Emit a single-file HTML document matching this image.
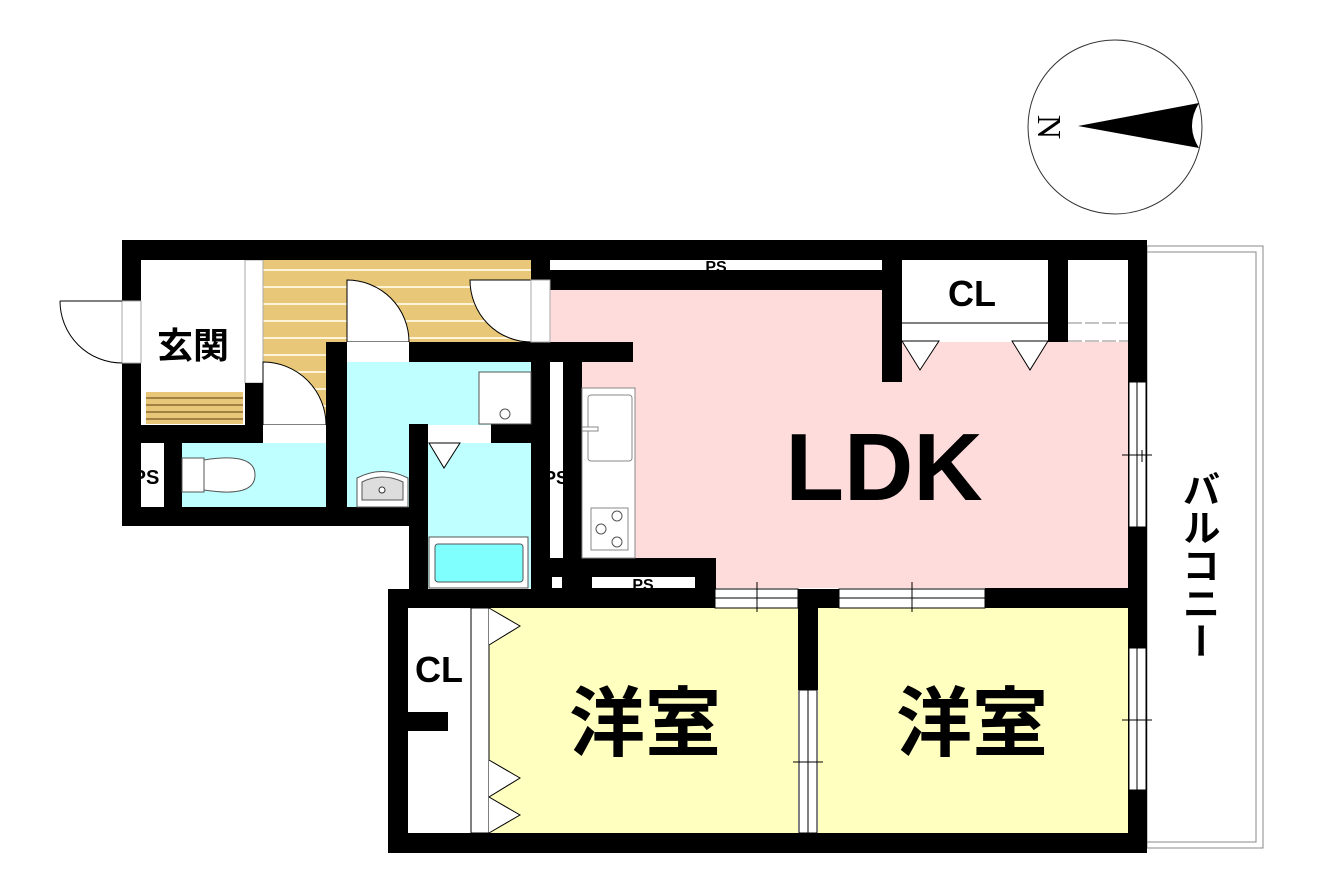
<!DOCTYPE html>
<html><head><meta charset="utf-8"><style>
html,body{margin:0;padding:0;background:#fff;}
svg{display:block}
text{font-family:"Liberation Sans","Noto Sans CJK JP",sans-serif;font-weight:bold;fill:#000}
</style></head><body>
<svg width="1319" height="885" viewBox="0 0 1319 885" xmlns="http://www.w3.org/2000/svg">
<!-- compass -->
<circle cx="1115" cy="127" r="87" fill="#fff" stroke="#333" stroke-width="1"/>
<path d="M1078,126 L1199,103 Q1185,126 1199,148 Z" fill="#000"/>
<text x="1050" y="127" font-size="34" text-anchor="middle" transform="rotate(90 1050 127)" dy="12" style="font-family:'Liberation Serif',serif;font-weight:normal">N</text>

<!-- balcony -->
<rect x="1147" y="246" width="116" height="602" fill="#fff" stroke="#888" stroke-width="1"/>
<rect x="1147" y="252" width="109" height="590" fill="none" stroke="#888" stroke-width="1"/>

<!-- room fills -->
<rect x="550" y="290" width="581" height="298" fill="#ffdcdc"/>
<rect x="582" y="362" width="140" height="226" fill="#ffdcdc"/>
<rect x="263" y="260" width="268" height="82" fill="#e8c878"/>
<g stroke="#fff3d8" stroke-width="2">
<line x1="263" y1="270" x2="531" y2="270"/><line x1="263" y1="287" x2="531" y2="287"/><line x1="263" y1="304" x2="531" y2="304"/><line x1="263" y1="321" x2="531" y2="321"/><line x1="263" y1="338" x2="531" y2="338"/>
</g>
<rect x="263" y="342" width="63" height="83" fill="#e8c878"/>
<g stroke="#fff3d8" stroke-width="2"><line x1="263" y1="355" x2="326" y2="355"/><line x1="263" y1="372" x2="326" y2="372"/><line x1="263" y1="389" x2="326" y2="389"/><line x1="263" y1="406" x2="326" y2="406"/></g>
<rect x="141" y="260" width="104" height="165" fill="#fff"/>
<rect x="146" y="392" width="97" height="32" fill="#e8c878"/>
<g stroke="#8a6a30" stroke-width="1.5"><line x1="146" y1="398" x2="243" y2="398"/><line x1="146" y1="405" x2="243" y2="405"/><line x1="146" y1="412" x2="243" y2="412"/><line x1="146" y1="419" x2="243" y2="419"/></g>
<rect x="245" y="260" width="18" height="123" fill="#fff" stroke="#aaa"/>
<rect x="182" y="443" width="144" height="64" fill="#c0ffff"/>
<rect x="347" y="362" width="184" height="145" fill="#c0ffff"/>
<rect x="428" y="443" width="103" height="145" fill="#c0ffff"/>
<rect x="489" y="608" width="309" height="225" fill="#ffffc0"/>
<rect x="818" y="608" width="310" height="225" fill="#ffffc0"/>

<!-- walls -->
<g fill="#000">
<rect x="122" y="240" width="1025" height="20"/>
<rect x="122" y="240" width="19" height="286"/>
<rect x="122" y="507" width="300" height="19"/>
<rect x="122" y="425" width="141" height="18"/>
<rect x="245" y="383" width="18" height="60"/>
<rect x="164" y="443" width="18" height="64"/>
<rect x="326" y="342" width="21" height="184"/>
<rect x="409" y="342" width="224" height="20"/>
<rect x="409" y="424" width="19" height="166"/>
<rect x="491" y="424" width="40" height="19"/>
<rect x="531" y="260" width="19" height="20"/>
<rect x="550" y="270" width="352" height="20"/>
<rect x="531" y="362" width="19" height="228"/>
<rect x="563" y="362" width="19" height="228"/>
<rect x="531" y="558" width="185" height="50"/>
<rect x="388" y="589" width="327" height="19"/>
<rect x="388" y="589" width="20" height="264"/>
<rect x="388" y="833" width="759" height="20"/>
<rect x="408" y="712" width="40" height="19"/>
<rect x="798" y="589" width="41" height="19"/>
<rect x="798" y="608" width="20" height="82"/>
<rect x="985" y="588" width="146" height="20"/>
<rect x="882" y="260" width="20" height="122"/>
<rect x="1048" y="260" width="20" height="82"/>
<rect x="1128" y="240" width="19" height="613"/>
</g>
<!-- PS strips -->
<rect x="550" y="260" width="332" height="10" fill="#fff"/>
<text x="716" y="272" font-size="16" text-anchor="middle">PS</text>
<rect x="552" y="577" width="10" height="11" fill="#fff"/>
<rect x="592" y="577" width="103" height="11" fill="#fff"/>
<text x="643" y="590" font-size="16" text-anchor="middle">PS</text>
<rect x="550" y="362" width="13" height="196" fill="#fff"/>
<text x="556" y="484" font-size="18" text-anchor="middle">PS</text>
<rect x="141" y="443" width="23" height="64" fill="#fff"/>
<text x="146" y="484" font-size="20" text-anchor="middle">PS</text>

<!-- windows -->
<g fill="#fff" stroke="#000" stroke-width="1">
<rect x="1129" y="382" width="17" height="145"/>
<rect x="1129" y="648" width="17" height="142"/>
<rect x="715" y="589" width="83" height="19"/>
<rect x="839" y="589" width="146" height="19"/>
<rect x="799" y="690" width="18" height="143"/>
</g>
<g stroke="#000" stroke-width="1">
<line x1="1137" y1="382" x2="1137" y2="527"/><line x1="1122" y1="455" x2="1152" y2="455"/><line x1="1142" y1="450" x2="1142" y2="462"/>
<line x1="1137" y1="648" x2="1137" y2="790"/><line x1="1122" y1="720" x2="1152" y2="720"/>
<line x1="715" y1="598" x2="798" y2="598"/><line x1="757" y1="582" x2="757" y2="612"/>
<line x1="839" y1="598" x2="985" y2="598"/><line x1="912" y1="582" x2="912" y2="612"/>
<line x1="808" y1="690" x2="808" y2="833"/><line x1="793" y1="762" x2="823" y2="762"/>
</g>

<!-- entrance door -->
<rect x="122" y="301" width="19" height="62" fill="#fff" stroke="#aaa"/>
<path d="M60,301 L122,301 M60,301 A62,62 0 0 0 122,363" fill="none" stroke="#000" stroke-width="1"/>
<!-- doors -->
<path d="M347,280 L347,342 L409,342 A62,62 0 0 0 347,280 Z" fill="#fff" stroke="#000" stroke-width="1"/>
<rect x="347" y="342" width="62" height="20" fill="#fff"/>
<path d="M470,280 L531,280 L531,342 A61,62 0 0 1 470,280 Z" fill="#fff" stroke="#000" stroke-width="1"/>
<rect x="531" y="280" width="19" height="62" fill="#fff" stroke="#aaa"/>
<path d="M263,362 L263,425 L326,425 A63,63 0 0 0 263,362 Z" fill="#fff" stroke="#000" stroke-width="1"/>
<rect x="263" y="425" width="63" height="18" fill="#fff"/>
<rect x="428" y="425" width="63" height="18" fill="#fff"/>
<path d="M429,443 L460,443 L444,468 Z" fill="#fff" stroke="#000"/>

<!-- fixtures -->
<rect x="479" y="372" width="52" height="52" fill="#fff" stroke="#555"/>
<circle cx="505" cy="414" r="5" fill="#fff" stroke="#555"/>
<path d="M357,507 L357,478 Q382,465 408,478 L408,507 Z" fill="#fff" stroke="#555"/>
<path d="M362,500 L362,482 Q382,472 403,482 L403,500 Z" fill="#ddd" stroke="#555"/>
<circle cx="382" cy="490" r="3" fill="#fff" stroke="#333"/>
<rect x="429" y="537" width="99" height="51" fill="#fff" stroke="#555"/>
<rect x="435" y="544" width="88" height="38" rx="3" fill="#80ffff" stroke="#555"/>
<rect x="182" y="458" width="22" height="34" fill="#fff" stroke="#555"/>
<path d="M204,460 Q255,452 255,475 Q255,498 204,490 Z" fill="#fff" stroke="#555"/>
<rect x="582" y="388" width="53" height="170" fill="#fff" stroke="#888"/>
<rect x="588" y="395" width="44" height="66" rx="3" fill="#fff" stroke="#888"/>
<rect x="582" y="427" width="16" height="4" fill="#fff" stroke="#888"/>
<rect x="591" y="508" width="37" height="42" fill="#fff" stroke="#888"/>
<circle cx="617" cy="516" r="5" fill="none" stroke="#555"/><circle cx="601" cy="529" r="5" fill="none" stroke="#555"/><circle cx="617" cy="542" r="5" fill="none" stroke="#555"/>

<!-- LDK closet -->
<rect x="902" y="260" width="146" height="82" fill="#fff"/>
<line x1="902" y1="323" x2="1048" y2="323" stroke="#000"/>
<path d="M902,341 L939,341 L920,370 Z M1012,341 L1048,341 L1030,370 Z" fill="#fff" stroke="#000"/>
<rect x="1068" y="260" width="60" height="82" fill="#fff"/>
<line x1="1068" y1="323" x2="1128" y2="323" stroke="#888" stroke-dasharray="14,3"/>
<line x1="1068" y1="341" x2="1128" y2="341" stroke="#888" stroke-dasharray="14,3"/>

<!-- west room closet -->
<rect x="408" y="608" width="63" height="104" fill="#fff"/>
<rect x="408" y="731" width="63" height="102" fill="#fff"/>
<rect x="448" y="712" width="23" height="19" fill="#fff"/>
<rect x="471" y="608" width="18" height="225" fill="#fff" stroke="#000" stroke-width="1"/>
<path d="M489,608 L520,626 L489,645 M489,760 L520,778 L489,797 L520,815 L489,833" fill="#fff" stroke="#000"/>

<!-- labels -->
<text x="884" y="500" font-size="96" text-anchor="middle">LDK</text>
<text x="645" y="750" font-size="76" text-anchor="middle">洋室</text>
<text x="972" y="750" font-size="76" text-anchor="middle">洋室</text>
<text x="193" y="358" font-size="36" text-anchor="middle">玄関</text>
<text x="972" y="306" font-size="36" text-anchor="middle">CL</text>
<text x="439" y="682" font-size="36" text-anchor="middle">CL</text>
<text x="1197" y="0" font-size="38" text-anchor="start" style="writing-mode:vertical-rl" transform="translate(0,470)">バルコニー</text>
</svg>
</body></html>
